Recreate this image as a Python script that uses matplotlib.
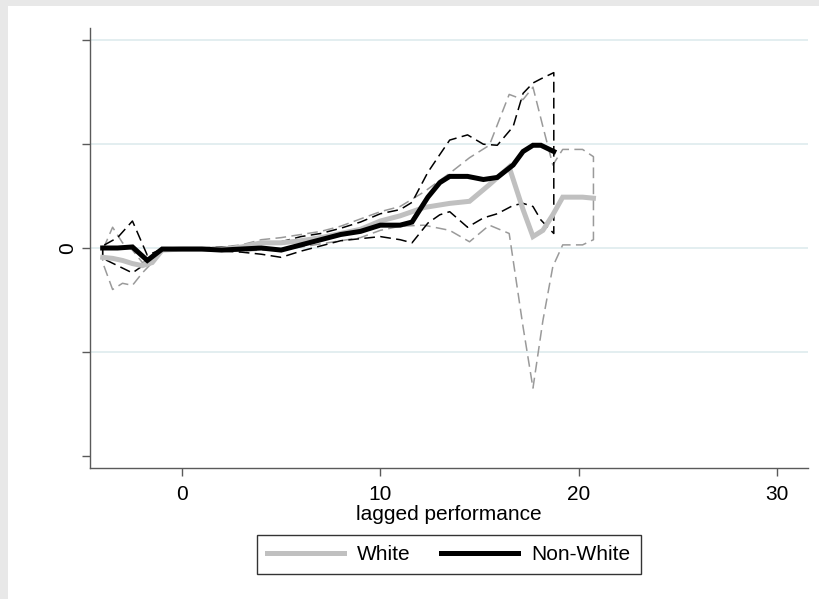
import matplotlib
matplotlib.use("Agg")
import matplotlib.pyplot as plt
from matplotlib.patches import Rectangle

plt.rcParams['font.family'] = ['Liberation Sans', 'DejaVu Sans']

# ---- data ----
nw_x = [-4, -3.25, -2.5, -1.75, -1, 0, 1, 2, 3, 4, 5, 6, 7, 8, 9, 10, 11, 11.6,
        12.4, 13, 13.5, 14.4, 15.2, 15.9, 16.7, 17.2, 17.7, 18.1, 18.75]
nw_mean = [0, 0, 0.001, -0.012, -0.001, -0.001, -0.001, -0.002, -0.001, 0, -0.002,
           0.003, 0.008, 0.013, 0.016, 0.022, 0.022, 0.025, 0.049, 0.063, 0.069,
           0.069, 0.066, 0.068, 0.080, 0.093, 0.099, 0.099, 0.093]
nw_hi = [0.002, 0.010, 0.026, -0.007, -0.001, 0, 0, 0.001, 0.002, 0.004, 0.006,
         0.011, 0.014, 0.019, 0.025, 0.033, 0.037, 0.044, 0.073, 0.090, 0.104,
         0.109, 0.100, 0.099, 0.117, 0.149, 0.159, 0.163, 0.169]
nw_lo = [-0.010, -0.017, -0.024, -0.014, -0.001, -0.002, -0.002, -0.003, -0.004,
         -0.006, -0.009, -0.003, 0.002, 0.007, 0.009, 0.011, 0.008, 0.005, 0.024,
         0.032, 0.035, 0.020, 0.029, 0.033, 0.041, 0.043, 0.040, 0.027, 0.014]

w_x = [-4, -3.5, -3, -2.5, -2, -1.5, -1, 0, 1, 2, 3, 4, 5, 6, 7, 8, 9, 10, 11,
       12.2, 13.5, 14.5, 15.5, 16.5, 17.2, 17.7, 18.2, 18.7, 19.2, 20.2, 20.75]
w_mean = [-0.009, -0.010, -0.012, -0.015, -0.017, -0.014, -0.002, -0.001, -0.001,
          -0.001, 0.001, 0.005, 0.005, 0.007, 0.010, 0.014, 0.018, 0.026, 0.031,
          0.039, 0.043, 0.045, 0.061, 0.078, 0.037, 0.011, 0.017, 0.032, 0.049,
          0.049, 0.048]
w_hi = [-0.002, 0.020, 0.005, -0.002, -0.014, -0.010, -0.001, 0, 0, 0.001, 0.003,
        0.008, 0.010, 0.013, 0.016, 0.021, 0.028, 0.035, 0.040, 0.054, 0.072,
        0.087, 0.099, 0.148, 0.143, 0.155, 0.117, 0.080, 0.095, 0.095, 0.088]
w_lo = [-0.014, -0.040, -0.034, -0.036, -0.024, -0.014, -0.003, -0.002, -0.002,
        -0.003, -0.003, -0.002, -0.001, 0.001, 0.004, 0.007, 0.010, 0.017, 0.021,
        0.022, 0.017, 0.006, 0.022, 0.014, -0.076, -0.135, -0.070, -0.018, 0.003,
        0.003, 0.008]

x_ticks = [0, 10, 20, 30]
y_ticks = [-0.2, -0.1, 0, 0.1, 0.2]
y_ticklabels = ['', '', '0', '', '']
y_grid = [-0.1, 0, 0.1, 0.2]
series_labels = ['White', 'Non-White']
x_label = 'lagged performance'

# ---- figure ----
W, H = 819, 599
fig = plt.figure(figsize=(W / 100, H / 100), dpi=100)
fig.patch.set_facecolor('#e8e8e8')
fig.patches.append(Rectangle((8 / W, 0), 1 - 8 / W, 1 - 6 / H, transform=fig.transFigure,
                             facecolor='white', edgecolor='none', zorder=-5))

ax = fig.add_axes([90 / W, 1 - 468 / H, (808 - 90) / W, (468 - 28) / H])
ax.set_zorder(1)
ax.set_facecolor('none')

GRAY_LINE = '#c0c0c0'
GRAY_CI = '#9a9a9a'
dash = (0, (7, 3.5))

for g in y_grid:
    ax.axhline(g, color='#e3eef0', lw=1.4, zorder=1)

ax.fill_between(w_x, w_lo, w_hi, facecolor='none', edgecolor=GRAY_CI,
                linestyle=dash, linewidth=1.1, zorder=2)
ax.fill_between(nw_x, nw_lo, nw_hi, facecolor='none', edgecolor='black',
                linestyle=dash, linewidth=1.1, zorder=3)
ax.plot(w_x, w_mean, color=GRAY_LINE, lw=3.6, zorder=4, label=series_labels[0],
        solid_joinstyle='miter')
ax.plot(nw_x, nw_mean, color='black', lw=3.6, zorder=5, label=series_labels[1],
        solid_joinstyle='miter')

ax.set_xlim(-4.64, 31.57)
ax.set_ylim(-0.212, 0.212)

for s in ['top', 'right']:
    ax.spines[s].set_visible(False)
for s in ['left', 'bottom']:
    ax.spines[s].set_color('#5a5a5a')
    ax.spines[s].set_linewidth(1.0)

ax.set_xticks(x_ticks)
ax.set_xticklabels([str(t) for t in x_ticks])
ax.set_yticks(y_ticks)
ax.set_yticklabels(y_ticklabels, rotation=90, va='center')
ax.tick_params(axis='both', direction='out', length=6, width=1.0, color='#5a5a5a',
               labelsize=15, pad=6)
ax.tick_params(axis='y', pad=3)
ax.set_xlabel(x_label, fontsize=15, labelpad=1)

leg = fig.legend(loc='center', bbox_to_anchor=(448.5 / W, 1 - 554.5 / H), ncol=2,
                 fontsize=15, frameon=True, fancybox=False, handlelength=3.7,
                 handletextpad=0.6, columnspacing=1.5, borderpad=0.5)
leg.get_frame().set_edgecolor('black')
leg.get_frame().set_linewidth(1.0)

fig.savefig('out.png', dpi=100)
